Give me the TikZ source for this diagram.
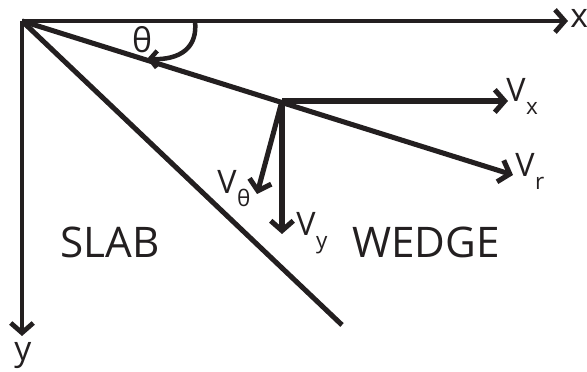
\documentclass[tikz,border=0pt]{standalone}
\usepackage{fontspec}
\setmainfont{Open Sans}
\usetikzlibrary{arrows.meta}

\definecolor{inkblack}{RGB}{35,31,32}
\newcommand{\vlabel}[1]{V\hspace{0.5pt}\raisebox{-9pt}{\fontsize{16}{18}\selectfont #1}}

\tikzset{
  axisline/.style={line width=3.4pt, -{Straight Barb[length=7pt,width=16pt]}},
  vecline/.style={line width=3.6pt, -{Straight Barb[length=7pt,width=16pt]}},
  plainline/.style={line width=3.6pt},
  biglabel/.style={font=\fontsize{30}{34}\selectfont, inner sep=0pt, anchor=base west},
  veclabel/.style={font=\fontsize{23}{26}\selectfont, inner sep=0pt, anchor=base west}
}

\begin{document}
\begin{tikzpicture}[x=0.025cm, y=-0.025cm, color=inkblack]

\useasboundingbox (0,0) rectangle (587,372);

% -------- Axes --------
\coordinate (O) at (22,21);
\coordinate (xtip) at (568,21);
\coordinate (ytip) at (22,336);
\draw[axisline] (O) -- (xtip);
\draw[axisline] (O) -- (ytip);
\node[font=\fontsize{24}{26}\selectfont, inner sep=0pt, anchor=west] (xlab) at (570,18) {x};
\node[font=\fontsize{24}{26}\selectfont, inner sep=0pt, anchor=north] (ylab) at (23,342) {y};

% -------- Slab / wedge boundary --------
\coordinate (slabend) at (342,325);
\draw[plainline] (O) -- (slabend);

% -------- Radial line and velocity components --------
\coordinate (vrtip) at (513,175);
\coordinate (P) at (282,101);
\coordinate (vxtip) at (508,101);
\coordinate (vytip) at (282,234);
\coordinate (vthtip) at (257,194);
\draw[vecline] (O) -- (vrtip);
\draw[vecline] (P) -- (vxtip);
\draw[vecline] (P) -- (vytip);
\draw[vecline] (P) -- (vthtip);

% -------- Angle --------
\coordinate (arcstart) at (195,21);
\coordinate (arcend) at (147,59);
\draw[line width=3.2pt, -{Straight Barb[length=5pt,width=12pt]}]
  (arcstart) .. controls (198,48) and (180,60) .. (arcend);
\node[font=\fontsize{24}{26}\selectfont, inner sep=0pt] (thlab) at (142,40) {θ};

% -------- Labels --------
\node[veclabel] (vxlab) at (506,102) {\vlabel{x}};
\node[veclabel] (vrlab) at (515,177) {\vlabel{r}};
\node[veclabel] (vylab) at (296,236) {\vlabel{y}};
\node[veclabel] (vthlab) at (217,194) {\vlabel{θ}};
\node[biglabel] (slab) at (60,258) {SLAB};
\node[biglabel] (wedge) at (352,258) {WEDGE};

\end{tikzpicture}
\end{document}
